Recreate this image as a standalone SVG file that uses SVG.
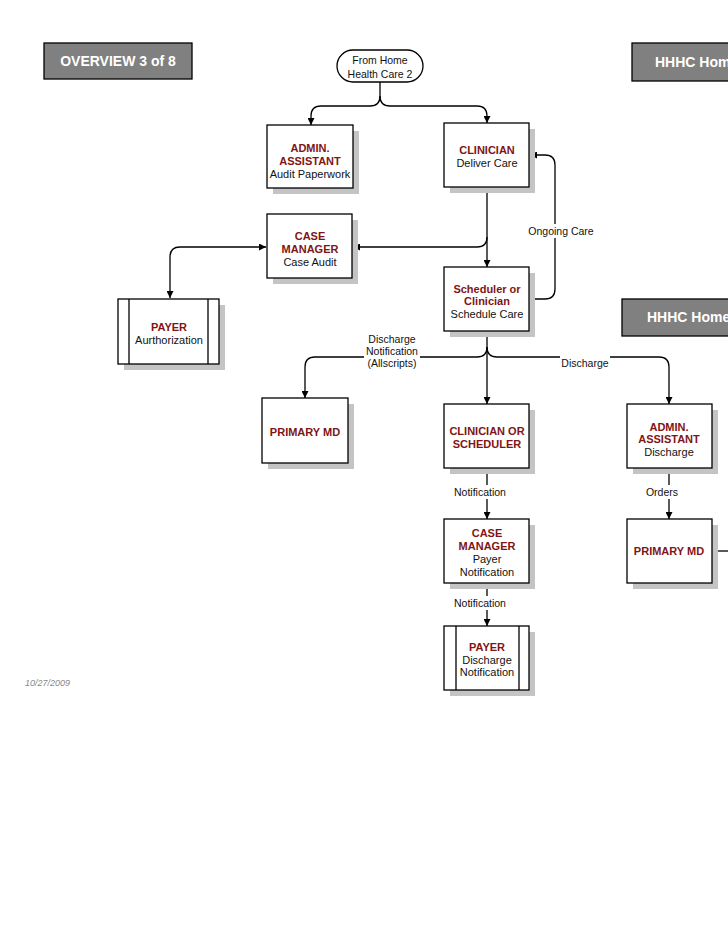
<svg xmlns="http://www.w3.org/2000/svg" width="728" height="943" viewBox="0 0 728 943">
<style>
.shadow{fill:#c4c4c4;stroke:none}
.box{fill:#fff;stroke:#000;stroke-width:1.3}
.hdr{fill:#808080;stroke:#000;stroke-width:1.3}
.hdrt{font-family:"Liberation Sans",Arial,sans-serif;font-size:14px;font-weight:bold;fill:#fff}
.t{font-family:"Liberation Sans",Arial,sans-serif;font-size:11px;font-weight:bold;fill:#7f1515;text-anchor:middle}
.b{font-family:"Liberation Sans",Arial,sans-serif;font-size:11px;fill:#111;text-anchor:middle}
.lbl{font-family:"Liberation Sans",Arial,sans-serif;font-size:10.5px;fill:#111;text-anchor:middle}
.bg{fill:#fff;stroke:none}
.c{fill:none;stroke:#000;stroke-width:1.3}
</style>
<defs>
<marker id="ah" viewBox="0 0 10 10" refX="10" refY="5" markerWidth="7" markerHeight="7" markerUnits="userSpaceOnUse" orient="auto-start-reverse">
<path d="M0,0 L10,5 L0,10 z" fill="#000"/>
</marker>
</defs>

<g id="overview">
<rect class="hdr" x="44" y="43" width="148" height="36"/>
<text class="hdrt" x="118" y="66" text-anchor="middle">OVERVIEW 3 of 8</text>
</g>
<g id="hhhc-top">
<rect class="hdr" x="632" y="43" width="110" height="38"/>
<text class="hdrt" x="655" y="67">HHHC Home</text>
</g>
<g id="hhhc-mid">
<rect class="hdr" x="622" y="299" width="120" height="37"/>
<text class="hdrt" x="647" y="322">HHHC Home</text>
</g>

<g id="connectors">
<path class="c" d="M380,82 V96 Q380,106 370,106 H321 Q311,106 311,116 V125" marker-end="url(#ah)"/>
<path class="c" d="M380,96 Q380,106 390,106 H477 Q487,106 487,116 V123" marker-end="url(#ah)"/>
<path class="c" d="M487,187 V267" marker-end="url(#ah)"/>
<path class="c" d="M487,237 Q487,247 477,247 H353" marker-end="url(#ah)"/>
<path class="c" d="M529,299 H545 Q555,299 555,289 V165 Q555,155 545,155 H530" marker-end="url(#ah)"/>
<path class="c" d="M266,247 H180 Q170,247 170,257 V298" marker-start="url(#ah)" marker-end="url(#ah)"/>
<path class="c" d="M487,331 V404" marker-end="url(#ah)"/>
<path class="c" d="M487,347 Q487,357 477,357 H315 Q305,357 305,367 V398" marker-end="url(#ah)"/>
<path class="c" d="M487,347 Q487,357 497,357 H659 Q669,357 669,367 V404" marker-end="url(#ah)"/>
<path class="c" d="M487,468 V519" marker-end="url(#ah)"/>
<path class="c" d="M487,583 V626" marker-end="url(#ah)"/>
<path class="c" d="M669,468 V519" marker-end="url(#ah)"/>
<path class="c" d="M712,551 H728"/>
<rect class="bg" x="527" y="224" width="70" height="14"/>
<text class="lbl" x="561" y="235">Ongoing Care</text>
<rect class="bg" x="560" y="356" width="50" height="14"/>
<text class="lbl" x="585" y="367">Discharge</text>
<rect class="bg" x="364" y="332" width="56" height="38"/>
<text class="lbl" x="392" y="343">Discharge</text>
<text class="lbl" x="392" y="355">Notification</text>
<text class="lbl" x="392" y="367">(Allscripts)</text>
<rect class="bg" x="452" y="485" width="56" height="14"/>
<text class="lbl" x="480" y="496">Notification</text>
<rect class="bg" x="452" y="596" width="56" height="14"/>
<text class="lbl" x="480" y="607">Notification</text>
<rect class="bg" x="644" y="485" width="38" height="14"/>
<text class="lbl" x="662" y="496">Orders</text>
</g>

<g id="from-home">
<rect class="box" x="337" y="50" width="86" height="32" rx="16" ry="16"/>
<text class="lbl" x="380" y="64">From Home</text>
<text class="lbl" x="380" y="78">Health Care 2</text>
</g>

<g id="admin-assistant-1">
<rect class="shadow" x="273" y="131" width="86" height="63"/>
<rect class="box" x="267" y="125" width="86" height="63"/>
<text class="t" x="310" y="152">ADMIN.</text>
<text class="t" x="310" y="165">ASSISTANT</text>
<text class="b" x="310" y="178">Audit Paperwork</text>
</g>

<g id="clinician">
<rect class="shadow" x="450" y="129" width="85" height="64"/>
<rect class="box" x="444" y="123" width="85" height="64"/>
<text class="t" x="487" y="154">CLINICIAN</text>
<text class="b" x="487" y="167">Deliver Care</text>
</g>

<g id="case-manager-1">
<rect class="shadow" x="273" y="220" width="85" height="64"/>
<rect class="box" x="267" y="214" width="85" height="64"/>
<text class="t" x="310" y="240">CASE</text>
<text class="t" x="310" y="253">MANAGER</text>
<text class="b" x="310" y="266">Case Audit</text>
</g>

<g id="payer-1">
<rect class="shadow" x="124" y="305" width="101" height="65"/>
<rect class="box" x="118" y="299" width="101" height="65"/>
<line class="c" x1="129" y1="299" x2="129" y2="364"/>
<line class="c" x1="208" y1="299" x2="208" y2="364"/>
<text class="t" x="169" y="331">PAYER</text>
<text class="b" x="169" y="344">Aurthorization</text>
</g>

<g id="scheduler">
<rect class="shadow" x="450" y="273" width="85" height="64"/>
<rect class="box" x="444" y="267" width="85" height="64"/>
<text class="t" x="487" y="293">Scheduler or</text>
<text class="t" x="487" y="305">Clinician</text>
<text class="b" x="487" y="318">Schedule Care</text>
</g>

<g id="primary-md-1">
<rect class="shadow" x="268" y="404" width="86" height="65"/>
<rect class="box" x="262" y="398" width="86" height="65"/>
<text class="t" x="305" y="436">PRIMARY MD</text>
</g>

<g id="clinician-or-scheduler">
<rect class="shadow" x="450" y="410" width="85" height="64"/>
<rect class="box" x="444" y="404" width="85" height="64"/>
<text class="t" x="487" y="435">CLINICIAN OR</text>
<text class="t" x="487" y="448">SCHEDULER</text>
</g>

<g id="admin-assistant-2">
<rect class="shadow" x="633" y="410" width="85" height="64"/>
<rect class="box" x="627" y="404" width="85" height="64"/>
<text class="t" x="669" y="431">ADMIN.</text>
<text class="t" x="669" y="443">ASSISTANT</text>
<text class="b" x="669" y="456">Discharge</text>
</g>

<g id="case-manager-2">
<rect class="shadow" x="450" y="525" width="85" height="64"/>
<rect class="box" x="444" y="519" width="85" height="64"/>
<text class="t" x="487" y="537">CASE</text>
<text class="t" x="487" y="550">MANAGER</text>
<text class="b" x="487" y="563">Payer</text>
<text class="b" x="487" y="576">Notification</text>
</g>

<g id="primary-md-2">
<rect class="shadow" x="633" y="525" width="85" height="64"/>
<rect class="box" x="627" y="519" width="85" height="64"/>
<text class="t" x="669" y="555">PRIMARY MD</text>
</g>

<g id="payer-2">
<rect class="shadow" x="450" y="632" width="85" height="64"/>
<rect class="box" x="444" y="626" width="85" height="64"/>
<line class="c" x1="456" y1="626" x2="456" y2="690"/>
<line class="c" x1="519" y1="626" x2="519" y2="690"/>
<text class="t" x="487" y="651">PAYER</text>
<text class="b" x="487" y="664">Discharge</text>
<text class="b" x="487" y="676">Notification</text>
</g>

<text x="25" y="686" font-family="'Liberation Sans',Arial,sans-serif" font-size="9px" font-style="italic" fill="#888">10/27/2009</text>
</svg>
